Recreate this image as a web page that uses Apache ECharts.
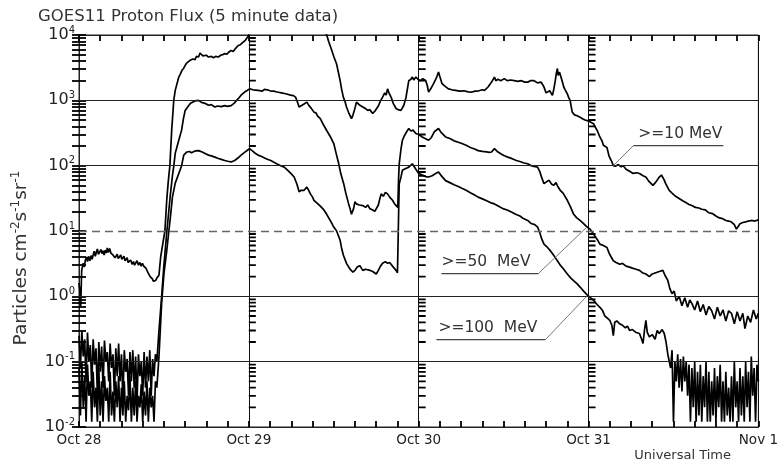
<!DOCTYPE html>
<html><head><meta charset="utf-8">
<script src="https://cdn.jsdelivr.net/npm/echarts@6/dist/echarts.min.js"></script>
<style>html,body{margin:0;padding:0;background:#fff}#c{width:781px;height:466px}</style>
</head><body><div id="c"></div>
<script>
// ---- data (hours since Oct 28 00:00 UT, proton flux) ----
const dayLabels = ['Oct 28', 'Oct 29', 'Oct 30', 'Oct 31', 'Nov 1'];
const seriesNames = ['>=10 MeV', '>=50  MeV', '>=100  MeV'];
const thresholdFlux = 10;
const solidGridFlux = [1000, 100, 1, 0.1];

const p10 = [
[0.0,1.6],[0.12,1.2],[0.24,0.7],[0.38,2.5],[0.5,2.9],[0.6,3.2],[0.75,2.8],[0.9,3.6],[1.07,4.0],[1.2,3.4],[1.35,4.1],[1.53,3.5],[1.7,4.2],[1.85,3.7],[2.0,4.3],[2.15,4.9],[2.3,4.1],[2.47,4.8],[2.6,5.3],[2.75,4.4],[2.93,4.6],[3.1,5.2],[3.25,4.5],[3.39,5.0],[3.55,4.3],[3.7,5.1],[3.87,4.6],[4.0,5.5],[4.15,4.7],[4.33,5.4],[4.5,4.6],[4.65,4.9],[4.79,4.3],[4.95,4.6],[5.1,3.9],[5.26,4.1],[5.4,4.4],[5.55,3.8],[5.72,4.0],[5.9,4.3],[6.05,3.7],[6.18,3.8],[6.35,4.1],[6.5,3.5],[6.66,3.6],[6.8,3.9],[6.95,3.3],[7.12,3.3],[7.3,3.6],[7.5,3.1],[7.7,3.4],[7.85,3.0],[8.05,3.2],[8.2,3.5],[8.4,3.0],[8.6,3.3],[8.8,2.9],[8.97,3.2],[9.15,2.9],[9.3,3.0],[9.45,2.7],[9.6,2.5],[9.75,2.3],[9.91,2.2],[10.05,2.0],[10.2,1.9],[10.37,1.85],[10.5,1.7],[10.65,1.8],[10.84,1.75],[11.0,1.9],[11.15,1.8],[11.3,2.1],[11.54,4],[11.8,6],[12.14,10],[12.4,30],[12.6,55],[12.84,100],[13.1,350],[13.39,1000],[13.6,1420],[13.85,1800],[14.1,2270],[14.3,2500],[14.55,2880],[14.8,3100],[15.0,3430],[15.2,3700],[15.4,3900],[15.7,4100],[15.9,3900],[16.1,4300],[16.4,4200],[16.6,4700],[16.9,4600],[17.1,5300],[17.3,5200],[17.5,4800],[17.7,5100],[18.0,4900],[18.3,4600],[18.5,4800],[18.7,4700],[19.0,4500],[19.3,4700],[19.7,4600],[20.0,4900],[20.3,5000],[20.6,5200],[20.9,5100],[21.2,5500],[21.5,5800],[21.8,5600],[22.1,6200],[22.5,6900],[22.8,7100],[23.2,7800],[23.5,8300],[23.9,9600],[24.3,11500],[25,14000],[27,20000],[30,25000],[33,18000],[34.5,12000],[35.0,10000],[35.3,7800],[35.7,5900],[36.0,4700],[36.4,3600],[36.9,2000],[37.1,1500],[37.35,1120],[37.6,950],[37.8,790],[38.1,650],[38.5,525],[38.7,590],[39.0,760],[39.2,940],[39.45,880],[39.7,840],[39.9,860],[40.1,790],[40.4,760],[40.8,700],[41.1,720],[41.5,630],[41.8,680],[42.0,700],[42.3,820],[42.6,980],[42.9,1120],[43.2,1300],[43.4,1200],[43.6,1500],[43.8,1300],[44.1,1120],[44.4,900],[44.8,750],[45.1,720],[45.5,700],[45.9,840],[46.2,1100],[46.6,2000],[46.9,2100],[47.1,2270],[47.3,2050],[47.6,2270],[47.9,2100],[48.2,2000],[48.6,2150],[49.0,2000],[49.2,1700],[49.4,1340],[49.7,1500],[50.1,1800],[50.5,2200],[50.8,2720],[51.0,2300],[51.3,1800],[51.7,1650],[52.2,1500],[52.7,1450],[53.2,1420],[53.8,1380],[54.4,1400],[55.0,1350],[55.5,1340],[56.0,1380],[56.5,1400],[57.0,1450],[57.3,1420],[57.8,1600],[58.3,1900],[58.7,2270],[58.9,2000],[59.2,2100],[59.6,2000],[60.1,2150],[60.5,2000],[61.0,2050],[61.5,2000],[62.0,1950],[62.5,2000],[63.0,1900],[63.4,1900],[63.8,2000],[64.3,2000],[64.8,1850],[65.3,1900],[65.5,1750],[65.7,1600],[66.0,1300],[66.2,1260],[66.5,1400],[66.9,1190],[67.1,1500],[67.3,2000],[67.45,2600],[67.6,3070],[67.7,2400],[67.8,2270],[67.9,2700],[68.0,2880],[68.2,2100],[68.5,1600],[68.7,1450],[69.0,1260],[69.2,1100],[69.4,1000],[69.55,800],[69.7,660],[70.0,600],[70.4,580],[70.8,550],[71.2,520],[71.5,500],[71.8,490],[72.2,470],[72.7,440],[73.0,380],[73.2,350],[73.6,275],[73.9,240],[74.1,205],[74.3,215],[74.6,190],[74.9,140],[75.3,114],[75.5,100],[75.8,98],[76.2,104],[76.6,96],[76.9,100],[77.3,88],[77.8,82],[78.3,76],[78.8,78],[79.2,76],[79.7,70],[80.1,67],[80.5,58],[81.1,50],[81.5,56],[82.0,67],[82.3,72],[82.5,71],[82.7,60],[82.9,53],[83.4,42],[83.8,38],[84.3,34],[84.8,31.5],[85.3,29],[85.8,27],[86.2,25.5],[86.6,24.5],[87.1,23],[87.6,22.5],[88.0,21.5],[88.5,21],[89.0,19],[89.5,18.5],[90.0,17],[90.4,16],[90.9,15.5],[91.4,14.5],[91.8,14.2],[92.2,13.7],[92.6,12.5],[92.9,10.7],[93.1,11.5],[93.4,12.9],[93.8,13.5],[94.2,13.8],[94.6,14.2],[95.0,14.5],[95.5,14.2],[96.0,14.8]
];

const p50 = [
[0,0.25],[0.2,0.08],[0.4,0.3],[0.6,0.12],[0.8,0.22],[1.0,0.05],[1.2,0.28],[1.4,0.1],[1.6,0.18],[1.8,0.04],[2.0,0.22],[2.2,0.09],[2.4,0.16],[2.6,0.03],[2.8,0.2],[3.0,0.07],[3.2,0.17],[3.4,0.04],[3.6,0.21],[3.8,0.1],[4.0,0.14],[4.2,0.05],[4.4,0.19],[4.6,0.08],[4.8,0.13],[5.0,0.03],[5.2,0.16],[5.4,0.06],[5.6,0.19],[5.8,0.05],[6.0,0.13],[6.2,0.025],[6.4,0.15],[6.6,0.07],[6.8,0.11],[7.0,0.03],[7.2,0.14],[7.4,0.05],[7.6,0.15],[7.8,0.04],[8.0,0.12],[8.2,0.025],[8.4,0.13],[8.6,0.06],[8.8,0.1],[9.0,0.03],[9.2,0.14],[9.4,0.04],[9.6,0.12],[9.8,0.05],[10.0,0.15],[10.2,0.03],[10.4,0.11],[10.6,0.06],[10.8,0.13],[11.0,0.1],
[11.3,0.3],[11.68,1.0],[12.0,3],[12.42,10],[12.9,35],[13.2,70],[13.4,100],[13.6,155],[14.1,245],[14.5,350],[14.75,520],[15.0,700],[15.25,760],[15.5,790],[15.75,900],[15.95,940],[16.4,980],[16.9,1000],[17.3,930],[17.8,900],[18.3,840],[18.7,860],[19.2,790],[19.6,820],[20.1,800],[20.6,830],[21.0,810],[21.5,830],[21.9,900],[22.5,1060],[22.9,1200],[23.4,1340],[23.7,1400],[24.1,1500],[24.6,1450],[25.3,1420],[25.9,1380],[26.2,1470],[26.6,1450],[27.0,1400],[27.5,1380],[28.0,1340],[28.6,1300],[29.2,1260],[29.9,1200],[30.3,1180],[30.6,1120],[30.85,950],[31.1,790],[31.3,820],[31.5,840],[31.8,880],[32.2,940],[32.5,830],[32.8,760],[33.2,660],[33.5,640],[33.7,580],[34.1,525],[34.5,430],[35.0,345],[35.5,280],[36.0,218],[36.3,160],[36.7,107],[37.0,75],[37.4,53],[37.7,38],[38.1,26],[38.3,22],[38.5,18],[38.8,22],[39.0,28],[39.2,26],[39.6,25],[40.1,24.5],[40.5,23],[40.8,25],[41.1,22],[41.5,21],[41.8,20],[42.0,19.5],[42.3,25],[42.5,31],[42.7,37],[43.0,34],[43.3,39],[43.6,37],[43.9,33],[44.3,29.5],[44.6,26],[44.8,24.5],[45.05,23],[45.15,60],[45.25,107],[45.5,180],[45.7,245],[46.0,290],[46.3,330],[46.6,370],[46.9,340],[47.2,350],[47.6,310],[48.0,300],[48.5,275],[48.9,260],[49.4,245],[49.8,270],[50.2,330],[50.8,370],[51.2,320],[51.8,275],[52.4,260],[53.0,240],[53.6,228],[54.1,218],[54.7,205],[55.3,190],[55.9,180],[56.4,170],[57.0,166],[57.6,163],[58.0,160],[58.3,162],[58.7,182],[59.1,165],[59.6,152],[60.1,142],[60.6,135],[61.2,128],[61.8,120],[62.4,115],[62.9,110],[63.4,107],[63.9,100],[64.3,97],[64.8,95],[65.1,82],[65.4,65],[65.7,53],[66.0,56],[66.4,60],[66.8,52],[67.1,50],[67.4,55],[67.7,47],[68.0,42],[68.4,38],[69.0,29.5],[69.4,24],[69.9,18],[70.3,16],[70.8,14.5],[71.3,13],[71.8,11.5],[72.2,10.7],[72.7,9.0],[73.2,7.5],[73.6,6.3],[74.1,6.0],[74.6,5.6],[74.9,4.6],[75.2,4.0],[75.5,3.5],[75.9,3.3],[76.4,3.1],[76.8,3.2],[77.3,2.9],[77.8,2.8],[78.2,2.7],[78.7,2.6],[79.2,2.5],[79.6,2.3],[80.1,2.2],[80.6,2.0],[81.0,2.2],[81.5,2.3],[82.0,2.4],[82.5,2.5],[82.8,2.1],[83.2,1.75],[83.5,1.3],[83.8,1.1],[84.1,1.2],[84.4,0.85],[84.8,1.0],[85.2,0.72],[85.6,0.95],[86.0,0.68],[86.3,0.88],[86.6,0.78],[87.0,0.62],[87.4,0.85],[87.8,0.58],[88.2,0.75],[88.6,0.52],[89.0,0.7],[89.4,0.6],[89.8,0.45],[90.2,0.68],[90.6,0.5],[91.0,0.62],[91.4,0.42],[91.8,0.6],[92.2,0.55],[92.6,0.38],[93.0,0.58],[93.4,0.42],[93.8,0.55],[94.1,0.32],[94.5,0.5],[94.9,0.4],[95.3,0.62],[95.7,0.45],[96.0,0.55]
];

const p100 = [
[0,0.08],[0.2,0.015],[0.4,0.1],[0.6,0.02],[0.8,0.06],[1.0,0.012],[1.2,0.09],[1.4,0.03],[1.6,0.05],[1.8,0.012],[2.0,0.07],[2.2,0.02],[2.4,0.04],[2.6,0.012],[2.8,0.08],[3.0,0.015],[3.2,0.05],[3.4,0.012],[3.6,0.06],[3.8,0.025],[4.0,0.04],[4.2,0.012],[4.4,0.07],[4.6,0.015],[4.8,0.035],[5.0,0.012],[5.2,0.05],[5.4,0.02],[5.6,0.06],[5.8,0.012],[6.0,0.04],[6.2,0.015],[6.4,0.05],[6.6,0.012],[6.8,0.03],[7.0,0.018],[7.2,0.06],[7.4,0.012],[7.6,0.04],[7.8,0.015],[8.0,0.05],[8.2,0.012],[8.4,0.03],[8.6,0.02],[8.8,0.045],[9.0,0.012],[9.2,0.035],[9.4,0.015],[9.6,0.05],[9.8,0.012],[10.0,0.04],[10.2,0.02],[10.4,0.03],[10.6,0.012],[10.8,0.05],[11.0,0.04],
[11.3,0.12],[11.68,0.8],[12.0,2.2],[12.4,5],[12.7,10],[13.0,20],[13.2,33],[13.6,54],[14.1,76],[14.5,100],[14.8,145],[15.25,162],[15.6,165],[15.9,158],[16.4,168],[16.9,170],[17.4,162],[17.9,152],[18.3,145],[18.8,140],[19.2,135],[19.7,129],[20.1,125],[20.6,120],[21.0,117],[21.5,114],[22.0,120],[22.5,132],[22.9,145],[23.4,160],[23.8,172],[24.1,182],[24.5,168],[24.9,155],[25.3,145],[25.8,138],[26.3,130],[26.7,124],[27.1,120],[27.6,112],[28.0,106],[28.5,100],[29.0,95],[29.5,85],[30.0,75],[30.4,67],[30.8,52],[31.1,40],[31.4,42],[31.8,42],[32.2,47],[32.4,43],[32.7,37],[33.0,33],[33.2,29.5],[33.6,27],[34.1,24],[34.6,21],[35.0,18],[35.5,14.5],[36.0,11.5],[36.4,10],[36.9,7.2],[37.1,5.5],[37.35,4.3],[37.8,3.2],[38.3,2.6],[38.7,2.35],[39.0,2.5],[39.3,2.8],[39.7,2.95],[39.9,2.7],[40.1,2.5],[40.5,2.6],[41.1,2.5],[41.5,2.4],[42.0,2.2],[42.3,2.5],[42.6,2.9],[42.9,3.2],[43.3,3.4],[43.6,3.2],[43.9,3.3],[44.3,2.9],[44.8,2.5],[45.0,2.3],[45.1,8],[45.2,30],[45.25,53],[45.5,67],[45.7,85],[46.1,90],[46.6,95],[47.1,107],[47.3,100],[47.6,88],[48.0,76],[48.5,72],[49.0,68],[49.4,67],[49.9,70],[50.4,76],[50.8,80],[51.3,68],[51.8,59],[52.4,55],[53.0,51],[53.6,48],[54.1,45],[54.7,42],[55.3,38.5],[55.9,35.5],[56.4,33],[57.0,31],[57.6,29],[58.2,27],[58.7,26],[59.3,24],[59.9,22],[60.5,21],[61.1,19.5],[61.7,18],[62.3,17],[62.8,15.5],[63.4,14.5],[63.9,13],[64.4,12.5],[64.8,11.5],[65.1,9.5],[65.4,7.5],[65.7,6.3],[66.2,5.6],[66.6,5.0],[67.1,4.2],[67.6,3.5],[68.0,3.0],[68.5,2.6],[69.0,2.2],[69.5,1.9],[70.0,1.7],[70.4,1.55],[70.9,1.35],[71.3,1.2],[71.8,1.05],[72.3,0.95],[72.8,0.85],[73.2,0.75],[73.6,0.68],[74.0,0.6],[74.3,0.5],[74.7,0.46],[75.0,0.43],[75.3,0.36],[75.5,0.25],[75.7,0.4],[76.0,0.42],[76.4,0.38],[76.8,0.36],[77.2,0.33],[77.5,0.35],[77.8,0.3],[78.2,0.31],[78.7,0.28],[79.2,0.27],[79.5,0.22],[79.7,0.19],[79.9,0.3],[80.1,0.43],[80.3,0.28],[80.6,0.24],[81.0,0.26],[81.4,0.22],[81.7,0.3],[82.0,0.27],[82.4,0.31],[82.7,0.27],[82.95,0.2],[83.2,0.13],[83.6,0.08],
[83.8,0.15],[84.0,0.012],[84.2,0.1],[84.4,0.05],[84.6,0.13],[84.8,0.04],[85.0,0.11],[85.2,0.035],[85.4,0.12],[85.6,0.05],[85.8,0.1],[86.0,0.03],[86.2,0.09],[86.4,0.012],[86.6,0.08],[86.8,0.02],[87.0,0.1],[87.2,0.012],[87.4,0.07],[87.6,0.015],[87.8,0.09],[88.0,0.012],[88.2,0.06],[88.4,0.02],[88.6,0.1],[88.8,0.012],[89.0,0.07],[89.2,0.012],[89.4,0.05],[89.6,0.015],[89.8,0.08],[90.0,0.012],[90.2,0.06],[90.4,0.02],[90.6,0.09],[90.8,0.012],[91.0,0.05],[91.2,0.012],[91.4,0.07],[91.6,0.015],[91.8,0.04],[92.0,0.012],[92.2,0.06],[92.4,0.012],[92.6,0.1],[92.8,0.02],[93.0,0.05],[93.2,0.012],[93.4,0.08],[93.6,0.015],[93.8,0.06],[94.0,0.012],[94.2,0.1],[94.4,0.02],[94.6,0.07],[94.8,0.012],[95.0,0.12],[95.2,0.03],[95.4,0.08],[95.6,0.012],[95.8,0.09],[96.0,0.05]
];

// label leader tips (hour, flux)
const labelTips = [[75.5, 100], [71.7, 11.3], [71.7, 0.99]];

// ---- chart ----
const FONT = 'DejaVu Sans';
const INK = '#222';
const TICK = {color: '#000', width: 1.8};
const chart = echarts.init(document.getElementById('c'), null, {renderer: 'canvas'});
const lineStyle = {color: '#000', width: 1.7};

function xAxisOpt(pos, labels) {
  return {
    type: 'value', min: 0, max: 96, interval: 24, position: pos,
    axisLine: {show: true, lineStyle: {color: INK, width: 1}},
    axisTick: {show: true, inside: true, length: 6, lineStyle: TICK},
    minorTick: {show: true, splitNumber: 8, length: 6, lineStyle: TICK},
    axisLabel: labels ? {formatter: v => dayLabels[Math.round(v / 24)], fontFamily: FONT, fontSize: 13.5, color: INK, margin: 6} : {show: false},
    splitLine: {show: labels, lineStyle: {color: '#111', width: 1}}
  };
}
function yAxisOpt(pos, labels) {
  return {
    type: 'log', logBase: 10, min: 0.01, max: 10000, splitNumber: 6, position: pos,
    axisLine: {show: true, lineStyle: {color: INK, width: 1}},
    axisTick: {show: true, inside: true, length: 7, lineStyle: TICK},
    minorTick: {show: true, splitNumber: 9, length: 7, lineStyle: TICK},
    splitLine: {show: false},
    axisLabel: labels ? {
      margin: 4,
      formatter: v => '{b|10}{s|' + Math.round(Math.log10(v)) + '}',
      rich: {
        b: {fontFamily: FONT, fontSize: 16, color: INK, lineHeight: 20},
        s: {fontFamily: FONT, fontSize: 10, color: INK, lineHeight: 20, verticalAlign: 'top'}
      }
    } : {show: false}
  };
}

chart.setOption({
  animation: false,
  backgroundColor: '#fff',
  grid: {left: 79, right: 14, top: 35, bottom: 39, show: true, borderColor: INK},
  xAxis: [xAxisOpt('bottom', true), xAxisOpt('top', false)],
  yAxis: [yAxisOpt('left', true), yAxisOpt('right', false)],
  series: [
    {name: seriesNames[0], type: 'line', data: p10, showSymbol: false, symbol: 'none', lineStyle: lineStyle, clip: true,
     markLine: {silent: true, symbol: ['none', 'none'], label: {show: false}, animation: false,
       data: solidGridFlux.map(v => ({yAxis: v, lineStyle: {color: INK, type: 'solid', width: 1}}))
         .concat([{yAxis: thresholdFlux, lineStyle: {color: '#666', type: [8, 5], width: 1.3}}])}},
    {name: seriesNames[1], type: 'line', data: p50, showSymbol: false, symbol: 'none', lineStyle: lineStyle, clip: true},
    {name: seriesNames[2], type: 'line', data: p100, showSymbol: false, symbol: 'none', lineStyle: lineStyle, clip: true}
  ]
});

// ---- minor flux ticks on the day lines, drawn as a line series through the chart's scales ----
const toPx = p => chart.convertToPixel({gridIndex: 0}, p);
const fromPx = p => chart.convertFromPixel({gridIndex: 0}, p);
const gx0 = toPx([0, 1])[0];
const dxH = fromPx([gx0 + 7, 200])[0];
const tickData = [];
for (let e = -2; e < 4; e++) {
  for (let m = 2; m <= 9; m++) {
    const v = m * Math.pow(10, e);
    [24, 48, 72].forEach(d => { tickData.push([d, v], [d + dxH, v], [d + dxH, '-']); });
  }
}
chart.setOption({series: [{}, {}, {}, {
  type: 'line', data: tickData, showSymbol: false, connectNulls: false, silent: true,
  lineStyle: TICK
}]});

// ---- text annotations ----
function seg(x1, y1, x2, y2, color, w) {
  return {type: 'line', shape: {x1, y1, x2, y2}, style: {stroke: color, lineWidth: w}, silent: true, z: 10};
}
const g = [];
const tips = labelTips.map(t => toPx(t));
const noteLayout = [
  {dx1: 20, dx2: 110, dy: -20, tx: 25, ty: -32, attach: 'left'},
  {dx1: -145, dx2: -48, dy: 46, tx: -145, ty: 34, attach: 'right'},
  {dx1: -150, dx2: -41, dy: 43, tx: -148, ty: 31, attach: 'right'}
];
noteLayout.forEach((L, i) => {
  const [px, py] = tips[i];
  const uy = py + L.dy;
  g.push(seg(px + L.dx1, uy, px + L.dx2, uy, '#444', 1.2));
  const ax = L.attach === 'left' ? px + L.dx1 : px + L.dx2;
  g.push(seg(ax, uy, px, py, '#777', 1));
  g.push({type: 'text', x: px + L.tx, y: py + L.ty, z: 10, style: {text: seriesNames[i], fontFamily: FONT, fontSize: 15.5, fill: '#333', verticalAlign: 'middle', align: 'left'}});
});
g.push({type: 'text', x: 38, y: 17, z: 10, style: {text: 'GOES11 Proton Flux (5 minute data)', fontFamily: FONT, fontSize: 16.5, fill: '#333', verticalAlign: 'middle'}});
g.push({type: 'text', x: 731, y: 456, z: 10, style: {text: 'Universal Time', fontFamily: FONT, fontSize: 13, fill: '#333', align: 'right', verticalAlign: 'middle'}});
g.push({type: 'text', x: 21, y: 258, rotation: Math.PI / 2, z: 10,
  style: {text: '{m|Particles cm}{s|-2}{m|s}{s|-1}{m|sr}{s|-1}', fontFamily: FONT, align: 'center', verticalAlign: 'middle',
    rich: {m: {fontFamily: FONT, fontSize: 18.5, fill: '#333', lineHeight: 22}, s: {fontFamily: FONT, fontSize: 12, fill: '#333', lineHeight: 22, verticalAlign: 'top'}}}});
chart.setOption({graphic: {elements: g}});
</script>
</body></html>
